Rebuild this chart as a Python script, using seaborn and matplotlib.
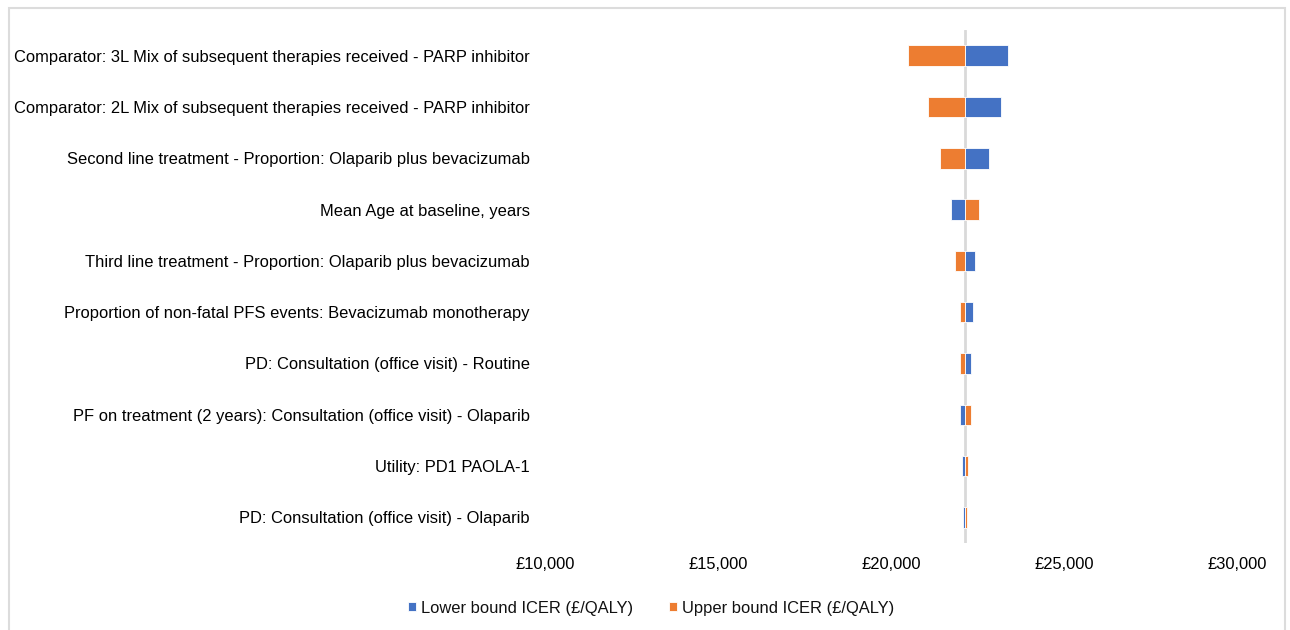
import matplotlib
matplotlib.use("Agg")
import matplotlib.pyplot as plt
import matplotlib.ticker as mticker
from matplotlib.patches import Rectangle
import pandas as pd
import seaborn as sns

# Deterministic sensitivity analysis inputs (top to bottom)
parameters = [
    "Comparator: 3L Mix of subsequent therapies received - PARP inhibitor",
    "Comparator: 2L Mix of subsequent therapies received - PARP inhibitor",
    "Second line treatment - Proportion: Olaparib plus bevacizumab",
    "Mean Age at baseline, years",
    "Third line treatment - Proportion: Olaparib plus bevacizumab",
    "Proportion of non-fatal PFS events: Bevacizumab monotherapy",
    "PD: Consultation (office visit) - Routine",
    "PF on treatment (2 years): Consultation (office visit) - Olaparib",
    "Utility: PD1 PAOLA-1",
    "PD: Consultation (office visit) - Olaparib",
]
lower_icer = [23390, 23170, 22830, 21745, 22430, 22360, 22300, 21995, 22050, 22070]
upper_icer = [20500, 21060, 21415, 22550, 21850, 21995, 21995, 22300, 22215, 22195]
base_icer = 22150

x_ticks = [10000, 15000, 20000, 25000, 30000]
series_names = ["Lower bound ICER (£/QALY)", "Upper bound ICER (£/QALY)"]
colors = ["#4472C4", "#ED7D31"]

sns.set_theme(style="white")
plt.rcParams["font.family"] = ["Liberation Sans", "DejaVu Sans"]
plt.rcParams["text.color"] = "#111111"
FS = 11.9

fig = plt.figure(figsize=(12.9, 6.3), dpi=100)
ax = fig.add_axes([0.4225, 0.138, 0.5364, 0.8144])

# Card-style frame around the chart
fig.patches.append(Rectangle((9 / 1290, -0.01), 1276 / 1290, 1 - 8 / 630 + 0.01,
                             transform=fig.transFigure, facecolor="white",
                             edgecolor="#dcdcdc", linewidth=1.5, zorder=-10))

for name, vals, col in zip(series_names, [lower_icer, upper_icer], colors):
    df = pd.DataFrame({"parameter": parameters,
                       "delta": [v - base_icer for v in vals]})
    sns.barplot(data=df, x="delta", y="parameter", orient="y", color=col,
                saturation=1, left=base_icer, width=0.4, errorbar=None, ax=ax,
                edgecolor="white", linewidth=0.6, label=name, zorder=3)

ax.axvline(base_icer, color="#d9d9d9", linewidth=2, zorder=2)

ax.set_xlim(x_ticks[0], x_ticks[-1])
ax.set_ylim(9.5, -0.5)
ax.set_xticks(x_ticks)
ax.xaxis.set_major_formatter(mticker.FuncFormatter(lambda v, p: f"£{v:,.0f}"))
ax.tick_params(axis="x", labelsize=FS, colors="#000000", length=0, pad=10)
ax.tick_params(axis="y", labelsize=FS, colors="#000000", length=0, pad=11)
ax.set_xlabel("")
ax.set_ylabel("")
for s in ax.spines.values():
    s.set_visible(False)
ax.set_facecolor("none")

handles, labels = ax.get_legend_handles_labels()
if ax.legend_:
    ax.legend_.remove()
fig.legend(handles, labels, loc="center", bbox_to_anchor=(651 / 1290, 1 - 608 / 630),
           ncol=2, frameon=False, fontsize=FS, handlelength=0.5,
           handleheight=0.5, handletextpad=0.3, columnspacing=2.2,
           labelcolor="#111111")

fig.savefig("out.png", dpi=100)
